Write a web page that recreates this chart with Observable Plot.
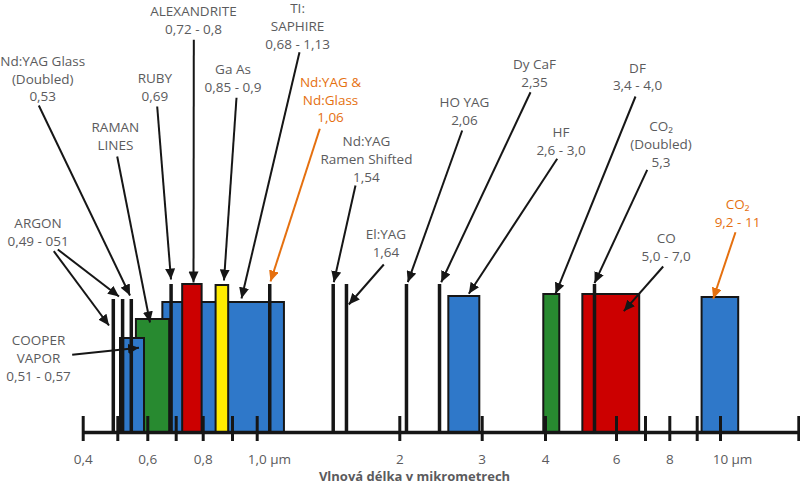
<!DOCTYPE html>
<html>
<head>
<meta charset="utf-8">
<script src="https://cdn.jsdelivr.net/npm/d3@7"></script>
<script src="https://cdn.jsdelivr.net/npm/@observablehq/plot@0.6"></script>
<style>
  html, body { margin: 0; padding: 0; background: #fff; }
</style>
</head>
<body>
<div id="chart"></div>
<script>
// ---------------- DATA ----------------
// Wavelength bands drawn as boxes (µm) and their relative heights
const bandNames = ["TI:SAPHIRE", "RAMAN LINES", "COOPER VAPOR", "ALEXANDRITE", "Ga As", "HF", "DF", "CO", "CO2"];
const bandStart = [0.653, 0.562, 0.509, 0.724, 0.844, 2.595, 3.973, 5.01, 9.21];
const bandEnd   = [1.191, 0.677, 0.589, 0.796, 0.887, 2.971, 4.386, 6.80, 10.93];
const bandLevel = [130, 113, 94, 148, 147, 136, 138, 138, 135];

// Single laser lines (µm) and their relative heights
const lineNames = ["ARGON 0,49", "ARGON 0,51", "Nd:YAG Doubled", "RUBY", "Nd:YAG", "Nd:YAG Raman", "El:YAG", "HO YAG", "Dy CaF", "CO2 Doubled"];
const lineAt    = [0.487, 0.516, 0.545, 0.682, 1.088, 1.533, 1.626, 2.081, 2.482, 5.353];
const lineLevel = [133, 133, 133, 148, 148, 148, 148, 148, 148, 148];

// Annotation labels (anchor in µm / height units)
const labelText = [
  "Nd:YAG Glass\n(Doubled)\n0,53",
  "RAMAN\nLINES",
  "RUBY\n0,69",
  "ALEXANDRITE\n0,72 - 0,8",
  "Ga As\n0,85 - 0,9",
  "TI:\nSAPHIRE\n0,68 - 1,13",
  "Nd:YAG &\nNd:Glass\n1,06",
  "Nd:YAG\nRamen Shifted\n1,54",
  "El:YAG\n1,64",
  "HO YAG\n2,06",
  "Dy CaF\n2,35",
  "HF\n2,6 - 3,0",
  "DF\n3,4 - 4,0",
  "CO\u2082\n(Doubled)\n5,3",
  "CO\n5,0 - 7,0",
  "CO\u2082\n9,2 - 11",
  "ARGON\n0,49 - 051",
  "COOPER\nVAPOR\n0,51 - 0,57"
];
const labelX = [0.283, 0.493, 0.625, 0.764, 0.902, 1.283, 1.514, 1.766, 1.903, 2.785, 3.826, 4.419, 6.724, 7.638, 7.852, 10.868, 0.2694, 0.2708];
const labelY = [354.7, 297.5, 345.8, 413.2, 355, 407.3, 333.7, 274.3, 190.3, 322, 360.3, 292, 356.7, 289.5, 186.5, 220, 201, 75.5];
const labelHighlight = [false, false, false, false, false, false, true, false, false, false, false, false, false, false, false, true, false, false];

// Pointer arrows (from label to target)
const arrowFromX = [0.2717, 0.4983, 0.6331, 0.7652, 0.9162, 1.2966, 1.439, 1.6893, 1.8878, 2.7573, 3.763, 4.3162, 6.655, 7.07, 7.728, 10.766, 0.315, 0.3266, 0.3682];
const arrowFromY = [327, 276, 326, 392.7, 334.7, 380.3, 303.7, 247, 168, 302, 340.3, 273.7, 336, 262.7, 166, 200.3, 181.3, 183, 77.7];
const arrowToX   = [0.5407, 0.6077, 0.6817, 0.7641, 0.871, 0.9364, 1.0933, 1.5372, 1.6424, 2.0971, 2.5024, 2.8374, 4.2703, 5.353, 6.252, 9.687, 0.4746, 0.504, 0.5707];
const arrowToY   = [137, 110, 153, 150, 152, 134, 151, 150.3, 128, 150.3, 150.3, 138.7, 138.7, 149.3, 121.3, 133.7, 107, 136, 84.7];
const arrowHighlight = [false, false, false, false, false, false, true, false, false, false, false, false, false, false, false, true, false, false, false];

// Axis
const tickValues = [0.4, 0.5, 0.6, 0.7, 0.8, 0.9, 1, 2, 3, 4, 6, 7, 8, 9, 10, 14];
const tickLabelValues = [0.4, 0.6, 0.8, 1, 2, 3, 4, 6, 8, 10];
const tickLabels = ["0,4", "0,6", "0,8", "1,0", "2", "3", "4", "6", "8", "10"];
const unitLabel = "µm";
const axisTitle = "Vlnová délka v mikrometrech";

// ---------------- STYLE / LAYOUT ----------------
const xBreaks = [0.4, 0.5, 0.6, 0.7, 0.8, 0.9, 1, 2, 3, 4, 5, 6, 7, 8, 9, 10, 14];
const xPixels = [82.7, 117.3, 147.3, 175.7, 202.7, 232, 256.7, 399.3, 481.7, 545, 582, 616, 645, 669.3, 696.7, 720, 798.3];

const bandFill = {
  "TI:SAPHIRE": "#2f78c9", "RAMAN LINES": "#288a30", "COOPER VAPOR": "#2f78c9",
  "ALEXANDRITE": "#cc0000", "Ga As": "#ffec00", "HF": "#2f78c9", "DF": "#288a30",
  "CO": "#cc0000", "CO2": "#2f78c9"
};
const ink = "#161616";
const grey = "#5b5b5d";
const orange = "#e5700f";
const font = "'Open Sans', 'Noto Sans', sans-serif";

const bands = bandNames.map((name, i) => ({name, start: bandStart[i], end: bandEnd[i], level: bandLevel[i]}));
const lines = lineNames.map((name, i) => ({name, at: lineAt[i], level: lineLevel[i]}));
const labels = labelText.map((text, i) => ({text, x: labelX[i], y: labelY[i], hi: labelHighlight[i]}));
const arrows = arrowFromX.map((x1, i) => ({x1, y1: arrowFromY[i], x2: arrowToX[i], y2: arrowToY[i], hi: arrowHighlight[i]}));
const tickLabelRows = tickLabelValues.map((v, i) => ({v, label: tickLabels[i]}));

function triHead(color) {
  const m = d3.create("svg:marker")
    .attr("viewBox", "-11 -5 11 10")
    .attr("markerWidth", 11)
    .attr("markerHeight", 10)
    .attr("markerUnits", "userSpaceOnUse")
    .attr("refX", 0)
    .attr("refY", 0)
    .attr("orient", "auto")
    .attr("fill", color)
    .attr("stroke", "none");
  m.append("path").attr("d", "M-11,-5L0,0L-11,5Z");
  return m.node();
}

const textCommon = {fontSize: 13.5, lineHeight: 1.32, textAnchor: "middle", lineAnchor: "middle", fontFamily: font};

const chart = Plot.plot({
  width: 800,
  height: 483,
  margin: 0,
  x: {type: "linear", domain: xBreaks, range: xPixels, axis: null},
  y: {domain: [0, 432], range: [432, 0], axis: null},
  color: {type: "identity"},
  style: {fontFamily: font, background: "#fff", overflow: "visible"},
  marks: [
    Plot.rect(bands, {x1: "start", x2: "end", y1: 0, y2: "level", fill: d => bandFill[d.name], stroke: ink, strokeWidth: 2}),
    Plot.ruleX(lines, {x: "at", y1: 0, y2: "level", stroke: ink, strokeWidth: 3.5}),
    Plot.ruleY([0], {x1: tickValues[0], x2: tickValues[tickValues.length - 1], stroke: ink, strokeWidth: 3.5}),
    Plot.ruleX(tickValues, {y1: -9, y2: 16, stroke: ink, strokeWidth: 3}),
    Plot.link(arrows.filter(d => !d.hi), {x1: "x1", y1: "y1", x2: "x2", y2: "y2", stroke: ink, strokeWidth: 2, markerEnd: triHead}),
    Plot.link(arrows.filter(d => d.hi), {x1: "x1", y1: "y1", x2: "x2", y2: "y2", stroke: orange, strokeWidth: 2, markerEnd: triHead}),
    Plot.text(labels.filter(d => !d.hi), {x: "x", y: "y", text: "text", fill: grey, ...textCommon}),
    Plot.text(labels.filter(d => d.hi), {x: "x", y: "y", text: "text", fill: orange, ...textCommon}),
    Plot.text(tickLabelRows, {x: "v", y: -25.5, text: "label", fill: grey, ...textCommon}),
    Plot.text([1], {x: d => d, y: -25.5, text: () => unitLabel, fill: grey, ...textCommon, textAnchor: "start", dx: 13}),
    Plot.text([10], {x: d => d, y: -25.5, text: () => unitLabel, fill: grey, ...textCommon, textAnchor: "start", dx: 11}),
    Plot.text([axisTitle], {y: -48, text: d => d, fill: grey, fontFamily: font, fontSize: 13, fontWeight: "bold", lineAnchor: "bottom", textAnchor: "middle", dx: 14})
  ]
});
document.getElementById("chart").appendChild(chart);
</script>
</body>
</html>
